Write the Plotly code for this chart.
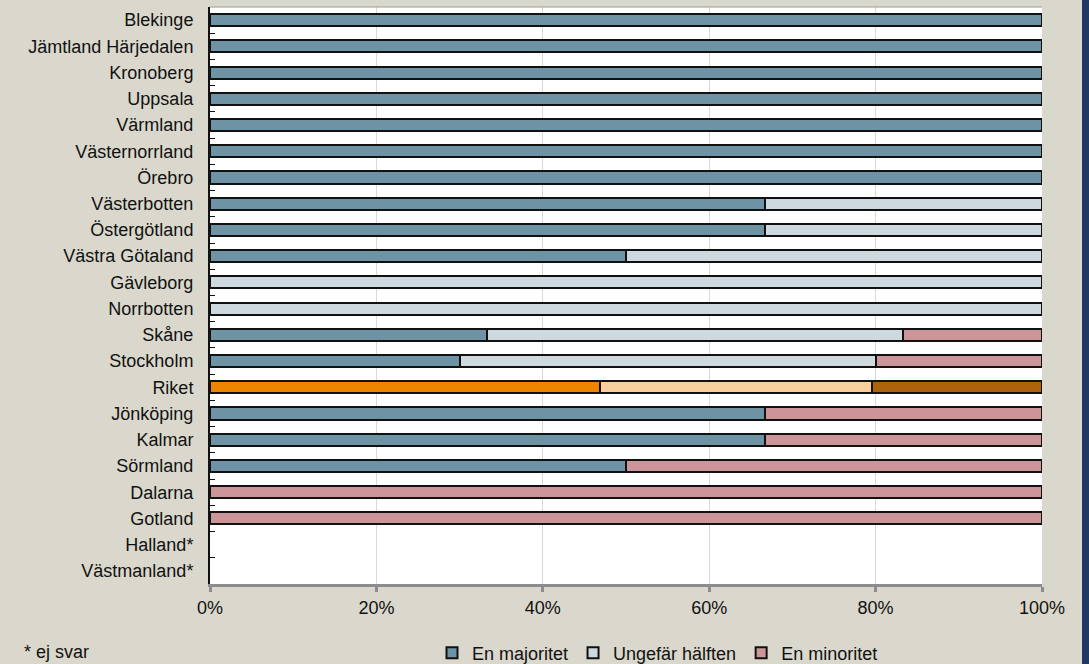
import plotly.graph_objects as go

# Regions listed top to bottom
regions = [
    "Blekinge", "Jämtland Härjedalen", "Kronoberg", "Uppsala", "Värmland",
    "Västernorrland", "Örebro", "Västerbotten", "Östergötland", "Västra Götaland",
    "Gävleborg", "Norrbotten", "Skåne", "Stockholm", "Riket", "Jönköping",
    "Kalmar", "Sörmland", "Dalarna", "Gotland", "Halland*", "Västmanland*",
]

# Share of answers (%) per region
majoritet = [100, 100, 100, 100, 100, 100, 100, 66.7, 66.7, 50,
             0, 0, 33.3, 30, 46.9, 66.7, 66.7, 50, 0, 0, 0, 0]
halften = [0, 0, 0, 0, 0, 0, 0, 33.3, 33.3, 50,
           100, 100, 50, 50, 32.7, 0, 0, 0, 0, 0, 0, 0]
minoritet = [0, 0, 0, 0, 0, 0, 0, 0, 0, 0,
             0, 0, 16.7, 20, 20.4, 33.3, 33.3, 50, 100, 100, 0, 0]

series_names = ["En majoritet", "Ungefär hälften", "En minoritet"]
base_colors = ["#6E93A5", "#CDD9DF", "#CB9599"]
national_colors = ["#EE8500", "#F6CF9A", "#AD620C"]
national = "Riket"

bg = "#DAD8CC"
font_family = "Liberation Sans, Arial, sans-serif"

fig = go.Figure()
for name, vals, col, ncol in zip(series_names, [majoritet, halften, minoritet],
                                 base_colors, national_colors):
    colors = [ncol if r == national else col for r in regions]
    # empty segments are left out so they draw no outline
    xs = [v if v > 0 else None for v in vals]
    fig.add_trace(go.Bar(
        y=regions, x=xs, name=name, orientation="h",
        marker=dict(color=colors, line=dict(color="#111111", width=2)),
        width=0.46, showlegend=False,
        hovertemplate="%{y}: %{x}%<extra>" + name + "</extra>",
    ))
    # legend entry in the regular colour
    fig.add_trace(go.Scatter(
        x=[None], y=[None], mode="markers", name=name,
        marker=dict(symbol="square", size=11, color=col,
                    line=dict(color="#111111", width=2)),
    ))

fig.update_layout(
    barmode="stack",
    width=1089, height=664,
    paper_bgcolor=bg, plot_bgcolor="white",
    margin=dict(l=210, r=47, t=7, b=80, autoexpand=False),
    font=dict(family=font_family, size=18, color="#111111"),
    showlegend=True,
    legend=dict(orientation="h", traceorder="normal",
                xref="container", yref="container",
                x=432 / 1089, y=11 / 664, xanchor="left", yanchor="middle",
                bgcolor="rgba(0,0,0,0)", font=dict(size=18),
                itemwidth=30, entrywidth=0),
    shapes=[
        dict(type="rect", xref="paper", yref="paper",
             x0=(1082 - 210) / 832, x1=1.1, y0=-0.2, y1=1.05,
             fillcolor="#203864", line=dict(width=0), layer="above"),
        dict(type="line", xref="paper", yref="paper",
             x0=0, x1=1, y0=1, y1=1,
             line=dict(color="#9A9A9A", width=1)),
    ],
    annotations=[
        dict(text="* ej svar", xref="paper", yref="paper",
             x=(22 - 210) / 832, y=-(652 - 584) / 577, xanchor="left", yanchor="middle",
             showarrow=False, font=dict(size=18)),
    ],
)

fig.update_xaxes(
    range=[0, 100], tickvals=[0, 20, 40, 60, 80, 100],
    ticktext=["0%", "20%", "40%", "60%", "80%", "100%"],
    showgrid=True, gridcolor="#DCDAD0", gridwidth=1,
    showline=True, linecolor="#8C8C8C", linewidth=3,
    ticks="outside", ticklen=5, tickcolor="#8C8C8C", tickwidth=3,
    zeroline=False, fixedrange=True,
)
fig.update_yaxes(
    autorange="reversed", categoryorder="array", categoryarray=regions,
    showline=True, linecolor="#111111", linewidth=2,
    ticks="inside", tickson="boundaries", ticklen=5, tickcolor="#111111",
    showgrid=False, ticklabelstandoff=11, fixedrange=True,
)

fig.write_html("out.html")
